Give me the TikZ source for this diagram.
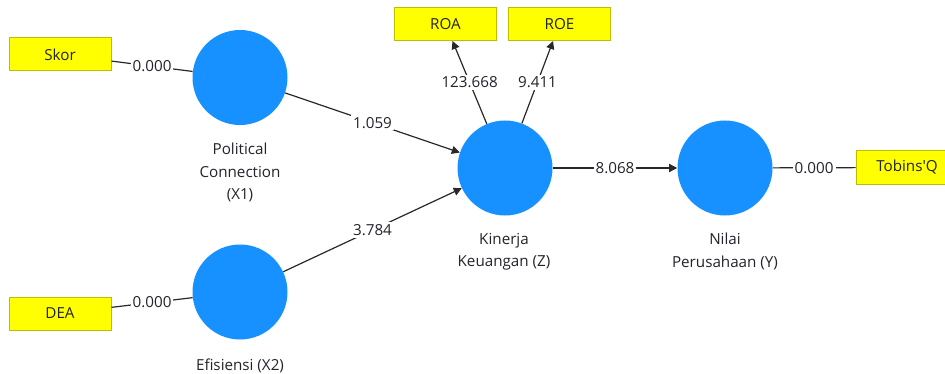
\documentclass[tikz,border=0pt]{standalone}
\usepackage{fontspec}
\setmainfont{Open Sans}[Ligatures=TeXOff]
\usetikzlibrary{arrows.meta}
\definecolor{lvblue}{RGB}{22,145,255}
\definecolor{boxyel}{RGB}{255,255,0}
\definecolor{boxedge}{RGB}{190,190,0}
\definecolor{linegray}{RGB}{40,40,40}
\definecolor{txt}{RGB}{35,35,45}
\begin{document}
\begin{tikzpicture}[x=0.75pt,y=-0.75pt,
  font=\fontsize{11.4}{16.8}\selectfont, text=txt,
  lv/.style={circle, fill=lvblue, minimum size=71.25pt, inner sep=0pt},
  ind/.style={draw=boxedge, fill=boxyel, line width=0.75pt, minimum width=76.5pt, minimum height=24.75pt, inner sep=0pt},
  conn/.style={draw=linegray, line width=0.9pt},
  arr/.style={conn, -{Triangle[length=6pt,width=6pt]}},
  val/.style={fill=white, inner sep=1.5pt},
  lvcaption/.style={align=center, anchor=north, inner sep=0pt}]
\useasboundingbox (0,0) rectangle (945,374);
\clip (0,0) rectangle (945,374);
\node[ind] (skor) at (60,54.5) {Skor};
\node[ind] (dea) at (60,313.5) {DEA};
\node[ind] (roa) at (445.5,24) {ROA};
\node[ind] (roe) at (559.5,24) {ROE};
\node[ind] (tq) at (907,167.5) {Tobins'Q};
\node[lv] (x1) at (240,77.5) {};
\node[lv] (x2) at (240,292) {};
\node[lv] (z) at (505,168) {};
\node[lv] (y) at (725,168) {};
\node[lvcaption] (x1c) at (240,143) {Political\\Connection\\(X1)};
\node[lvcaption] (x2c) at (240,358.5) {Efisiensi (X2)};
\node[lvcaption] (zc) at (504,233) {Kinerja\\Keuangan (Z)};
\node[lvcaption] (yc) at (725,233) {Nilai\\Perusahaan (Y)};
\draw[conn] (skor) -- node[val]{0.000} (x1);
\draw[conn] (dea) -- node[val]{0.000} (x2);
\draw[arr] (x1) -- node[val]{1.059} (z);
\draw[arr] (x2) -- node[val]{3.784} (z);
\draw[arr] (z) -- node[val]{123.668} (roa);
\draw[arr] (z) -- node[val]{9.411} (roe);
\draw[arr] (z) -- node[val]{8.068} (y);
\draw[conn] (y) -- node[val]{0.000} (tq);
\end{tikzpicture}
\end{document}
